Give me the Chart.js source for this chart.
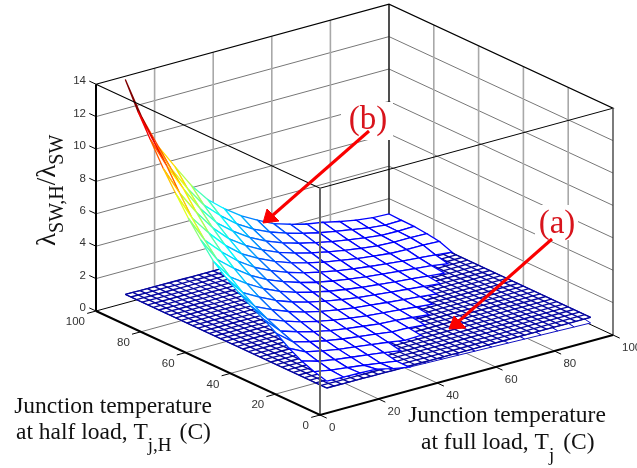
<!DOCTYPE html>
<html>
<head>
<meta charset="utf-8">
<style>
  html, body { margin: 0; padding: 0; background: #fff; }
  canvas { display: block; }
</style>
<script src="https://cdn.jsdelivr.net/npm/chart.js@4"></script>
</head>
<body>
<canvas id="myChart" width="637" height="468"></canvas>
<script>
const tjTicks = [0, 20, 40, 60, 80, 100];
const thTicks = [0, 20, 40, 60, 80, 100];
const zTicks = [0, 2, 4, 6, 8, 10, 12, 14];

// upper sheet: one row per Tj,H, one column per Tj
const tjGrid = [10, 15.6, 21.3, 26.9, 32.5, 38.1, 43.8, 49.4, 55, 60.6, 66.3, 71.9, 77.5, 83.1, 88.8, 94.4, 100];
const thGrid = [10, 15.6, 21.3, 26.9, 32.5, 38.1, 43.8, 49.4, 55, 60.6, 66.3, 71.9, 77.5, 83.1, 88.8, 94.4, 100];
const zUpper = [
  [.95, .93, .9, .86, .62, .43, .4, .37, .34, .31, .28, .25, .22, .19, .16, .13, .1],
  [1.18, 1, .87, .74, .6, .44, .35, .25, .25, .25, .25, .25, .25, .25, .25, .25, .25],
  [1.48, 1.18, 1, .87, .74, .6, .44, .35, .35, .25, .25, .25, .25, .25, .25, .25, .25],
  [1.9, 1.4, 1.18, 1, .87, .74, .6, .44, .48, .35, .25, .25, .25, .25, .25, .25, .25],
  [2.45, 1.66, 1.39, 1.17, 1, .87, .74, .6, .58, .48, .35, .25, .25, .25, .25, .25, .25],
  [2.95, 1.97, 1.64, 1.37, 1.16, 1, .87, .74, .68, .58, .48, .35, .25, .25, .25, .25, .25],
  [3.4, 2.33, 1.93, 1.61, 1.36, 1.16, 1, .87, .78, .68, .58, .48, .35, .25, .25, .25, .25],
  [3.9, 2.75, 2.28, 1.89, 1.58, 1.34, 1.15, 1, .89, .78, .68, .58, .48, .35, .25, .25, .25],
  [4.45, 3.26, 2.69, 2.21, 1.84, 1.55, 1.33, 1.15, 1, .89, .78, .68, .58, .48, .35, .25, .25],
  [5.1, 3.86, 3.17, 2.59, 2.14, 1.8, 1.53, 1.31, 1.14, 1, .89, .78, .68, .58, .48, .32, .25],
  [6.05, 4.57, 3.74, 3.04, 2.49, 2.09, 1.76, 1.5, 1.3, 1.14, 1, .89, .78, .68, .58, .42, .35],
  [7.05, 5.41, 4.41, 3.56, 2.9, 2.42, 2.03, 1.72, 1.49, 1.29, 1.13, 1, .89, .78, .7, .6, .5],
  [8.2, 6.41, 5.2, 4.17, 3.37, 2.81, 2.34, 1.98, 1.7, 1.47, 1.29, 1.13, 1, .89, .85, .85, .8],
  [9.4, 7.6, 6.13, 4.89, 3.93, 3.25, 2.69, 2.26, 1.94, 1.68, 1.46, 1.28, 1.13, 1, .95, .95, .92],
  [10.8, 8.9, 7.2, 5.73, 4.57, 3.77, 3.1, 2.6, 2.21, 1.91, 1.66, 1.45, 1.28, 1.13, 1, .98, 1],
  [12.2, 10, 8.1, 6.6, 5.3, 4.37, 3.57, 2.97, 2.52, 2.17, 1.88, 1.64, 1.45, 1.28, 1.1, 1, 1.02],
  [13.8, 11.2, 9.1, 7.6, 6.15, 5, 4.15, 3.45, 2.9, 2.4, 2.08, 1.82, 1.65, 1.42, 1.22, 1.1, 1.05]
];

// lower flat sheet, finer mesh, height read per Tj
const tjFine = [10, 12.5, 15, 17.5, 20, 22.5, 25, 27.5, 30, 32.5, 35, 37.5, 40, 42.5, 45, 47.5, 50, 52.5, 55, 57.5, 60, 62.5, 65, 67.5, 70, 72.5, 75, 77.5, 80, 82.5, 85, 87.5, 90, 92.5, 95, 97.5, 100];
const thFine = [10, 12.5, 15, 17.5, 20, 22.5, 25, 27.5, 30, 32.5, 35, 37.5, 40, 42.5, 45, 47.5, 50, 52.5, 55, 57.5, 60, 62.5, 65, 67.5, 70, 72.5, 75, 77.5, 80, 82.5, 85, 87.5, 90, 92.5, 95, 97.5, 100];
const zLower = [.53, .53, .52, .52, .52, .52, .51, .51, .51, .5, .5, .5, .5, .5, .49, .49, .49, .49, .48, .48, .48, .48, .48, .47, .47, .47, .47, .46, .46, .46, .46, .46, .45, .45, .45, .45, .45];

// view of the box, orthographic: pixels per unit along each axis
const origin = { x: 320, y: 415 };
const tjVec = { x: 2.93, y: -0.8 };
const thVec = { x: -2.24, y: -1.04 };
const zVec = -16.2;

function project(tj, th, z) {
  return {
    x: origin.x + tj * tjVec.x + th * thVec.x,
    y: origin.y + tj * tjVec.y + th * thVec.y + z * zVec
  };
}

function jet(z) {
  const t = Math.min(1, z / 13.8);
  const c = v => Math.round(255 * Math.max(0, Math.min(1, 1.5 - Math.abs(4 * t - v))));
  return 'rgb(' + c(3) + ',' + c(2) + ',' + c(1) + ')';
}

const datasets = [];
function addLine(points, color, width, fillColor) {
  datasets.push({
    data: points,
    showLine: true,
    borderColor: color,
    borderWidth: width,
    backgroundColor: fillColor || 'transparent',
    fill: fillColor ? 'shape' : false,
    pointRadius: 0,
    tension: 0,
    clip: false
  });
}

// back walls and floor grid
const gridDark = '#777';
const gridLight = '#a8a8a8';
zTicks.slice(1, -1).forEach(z => {
  addLine([project(0, 100, z), project(100, 100, z), project(100, 0, z)], gridDark, 1);
});
tjTicks.slice(1, -1).forEach(t => {
  addLine([project(t, 0, 0), project(t, 100, 0)], gridDark, 1);
  addLine([project(t, 100, 0), project(t, 100, 14)], gridLight, 1.6);
});
thTicks.slice(1, -1).forEach(t => {
  addLine([project(0, t, 0), project(100, t, 0)], gridDark, 1);
  addLine([project(100, t, 0), project(100, t, 14)], gridLight, 1.6);
});

// back edges of the box
addLine([project(0, 100, 0), project(100, 100, 0), project(100, 0, 0)], '#000', 1);
addLine([project(100, 100, 0), project(100, 100, 14)], '#222', 1.6);

const cutoff = 0.5;
function cellPoints(i, j) {
  return [
    project(tjGrid[i], thGrid[j], zUpper[j][i]),
    project(tjGrid[i + 1], thGrid[j], zUpper[j][i + 1]),
    project(tjGrid[i + 1], thGrid[j + 1], zUpper[j + 1][i + 1]),
    project(tjGrid[i], thGrid[j + 1], zUpper[j + 1][i]),
    project(tjGrid[i], thGrid[j], zUpper[j][i])
  ];
}
function cellMean(i, j) {
  return (zUpper[j][i] + zUpper[j][i + 1] + zUpper[j + 1][i] + zUpper[j + 1][i + 1]) / 4;
}
function cellMax(i, j) {
  return Math.max(zUpper[j][i], zUpper[j][i + 1], zUpper[j + 1][i], zUpper[j + 1][i + 1]);
}

// cells of the upper sheet that sit under the flat one
for (let j = thGrid.length - 2; j >= 0; j--) {
  for (let i = tjGrid.length - 2; i >= 0; i--) {
    if (cellMean(i, j) < cutoff) addLine(cellPoints(i, j), '#1010c0', 1, '#fff');
  }
}

// flat sheet
const lowerBlue = '#0606a0';
const lowerEdge = [];
tjFine.forEach((t, i) => lowerEdge.push(project(t, thFine[0], zLower[i])));
tjFine.slice().reverse().forEach((t, i) => lowerEdge.push(project(t, 100, zLower[tjFine.length - 1 - i])));
lowerEdge.push(lowerEdge[0]);
addLine(lowerEdge, lowerBlue, 1, '#fff');
tjFine.forEach((t, i) => {
  addLine([project(t, thFine[0], zLower[i]), project(t, 100, zLower[i])], lowerBlue, 1.35);
});
thFine.forEach(t => {
  addLine(tjFine.map((v, i) => project(v, t, zLower[i])), lowerBlue, 1.35);
});

// cells above the flat sheet, far ones first
for (let j = thGrid.length - 2; j >= 0; j--) {
  for (let i = tjGrid.length - 2; i >= 0; i--) {
    if (cellMean(i, j) >= cutoff) addLine(cellPoints(i, j), jet(Math.max(cellMax(i, j), 1.7)), 1.3, '#fff');
  }
}

// front edges of the box
addLine([project(0, 100, 14), project(100, 100, 14), project(100, 0, 14), project(0, 0, 14), project(0, 100, 14)], '#000', 1.1);
addLine([project(0, 0, 0), project(0, 0, 14)], '#666', 2);
addLine([project(100, 0, 0), project(100, 0, 14)], '#444', 1.4);
addLine([project(0, 100, 0), project(0, 100, 14)], '#000', 2);
addLine([project(0, 100, 0), project(0, 0, 0), project(100, 0, 0)], '#000', 2);

// tick marks
zTicks.forEach(z => addLine([project(0, 100, z), project(0, 103, z)], '#000', 1));
tjTicks.forEach(t => addLine([project(t, 0, 0), project(t, -3, 0)], '#000', 1));
thTicks.forEach(t => addLine([project(0, t, 0), project(-3, t, 0)], '#000', 1));

// pasted callouts
const calloutRed = '#fa0000';
addLine([{ x: 341, y: 102 }, { x: 393, y: 102 }, { x: 393, y: 140 }, { x: 341, y: 140 }, { x: 341, y: 102 }], '#fff', 0, '#fff');
addLine([{ x: 535, y: 205 }, { x: 578, y: 205 }, { x: 578, y: 240 }, { x: 535, y: 240 }, { x: 535, y: 205 }], '#fff', 0, '#fff');
addLine([{ x: 369, y: 131 }, { x: 273, y: 215 }], calloutRed, 3);
addLine([{ x: 263, y: 223 }, { x: 267, y: 209 }, { x: 279, y: 221 }, { x: 263, y: 223 }], calloutRed, 1, calloutRed);
addLine([{ x: 552, y: 239 }, { x: 459, y: 321 }], calloutRed, 3);
addLine([{ x: 449, y: 329 }, { x: 454, y: 316 }, { x: 466, y: 328 }, { x: 449, y: 329 }], calloutRed, 1, calloutRed);

datasets.forEach((d, i) => { d.order = datasets.length - i; });

function drawRuns(ctx, x, y, runs) {
  let cx = x;
  runs.forEach(r => {
    ctx.font = r.size + 'px "Liberation Serif"';
    ctx.fillText(r.text, cx, y + (r.dy || 0));
    cx += ctx.measureText(r.text).width + (r.gap || 0);
  });
}

const labelsPlugin = {
  id: 'labels',
  afterDatasetsDraw(chart) {
    const ctx = chart.ctx;
    const sx = chart.scales.x, sy = chart.scales.y;
    ctx.save();
    ctx.fillStyle = '#333';
    ctx.font = '11.5px "Liberation Sans"';
    ctx.textBaseline = 'middle';

    ctx.textAlign = 'right';
    zTicks.forEach(z => {
      const p = project(0, 100, z);
      ctx.fillText(String(z), sx.getPixelForValue(p.x) - 10, sy.getPixelForValue(p.y) - 3);
    });
    thTicks.forEach(t => {
      const p = project(0, t, 0);
      ctx.fillText(String(t), sx.getPixelForValue(p.x) - 11, sy.getPixelForValue(p.y) + 11);
    });
    ctx.textAlign = 'left';
    tjTicks.forEach(t => {
      const p = project(t, 0, 0);
      ctx.fillText(String(t), sx.getPixelForValue(p.x) + 9, sy.getPixelForValue(p.y) + 13);
    });

    ctx.fillStyle = '#111';
    ctx.textBaseline = 'alphabetic';
    ctx.textAlign = 'center';
    ctx.font = '23.5px "Liberation Serif"';
    ctx.fillText('Junction temperature', 113, 413);
    ctx.fillText('Junction temperature', 507, 422);
    ctx.textAlign = 'left';
    drawRuns(ctx, 16, 439, [
      { text: 'at half load, T', size: 23.5 },
      { text: 'j,H', size: 19, dy: 12, gap: 8 },
      { text: '(C)', size: 23.5 }
    ]);
    drawRuns(ctx, 421, 449, [
      { text: 'at full load, T', size: 23.5 },
      { text: 'j', size: 19, dy: 12, gap: 9 },
      { text: '(C)', size: 23.5 }
    ]);

    ctx.save();
    ctx.translate(55, 246);
    ctx.rotate(-Math.PI / 2);
    drawRuns(ctx, 0, 0, [
      { text: 'λ', size: 27 },
      { text: 'SW,H', size: 20, dy: 8 },
      { text: '/', size: 27 },
      { text: 'λ', size: 27 },
      { text: 'SW', size: 20, dy: 8 }
    ]);
    ctx.restore();

    ctx.fillStyle = '#d8141c';
    ctx.textAlign = 'center';
    ctx.font = '33px "Liberation Serif"';
    ctx.fillText('(b)', 368, 129);
    ctx.fillText('(a)', 557, 233);
    ctx.restore();
  }
};

const ctx = document.getElementById('myChart');
const myChart = new Chart(ctx, {
  type: 'scatter',
  data: { datasets: datasets },
  options: {
    responsive: false,
    animation: false,
    layout: { padding: 0 },
    plugins: { legend: { display: false }, tooltip: { enabled: false } },
    scales: {
      x: { type: 'linear', display: false, min: 0, max: 637 },
      y: { type: 'linear', display: false, min: 0, max: 468, reverse: true }
    }
  },
  plugins: [labelsPlugin]
});
</script>
</body>
</html>
